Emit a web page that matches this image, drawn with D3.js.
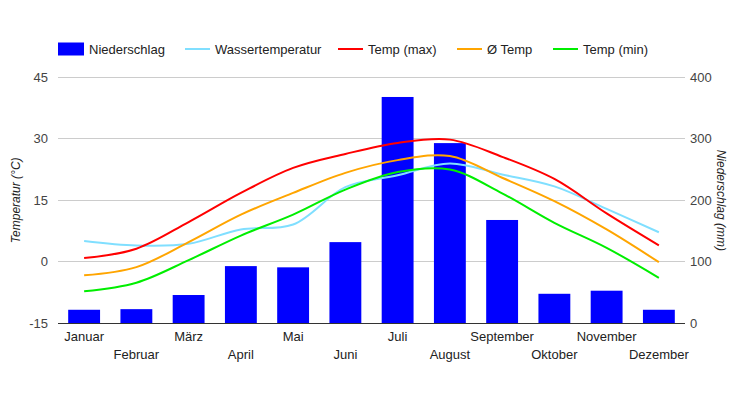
<!DOCTYPE html>
<html><head><meta charset="utf-8">
<script src="https://cdn.jsdelivr.net/npm/d3@7"></script>
<style>body{margin:0;background:#fff;}svg{display:block;font-family:"Liberation Sans",Arial,sans-serif;}</style>
</head><body>
<svg id="c" width="731" height="400"></svg>
<script>
const months = ["Januar","Februar","März","April","Mai","Juni","Juli","August","September","Oktober","November","Dezember"];
const niederschlag = [22,23,46,93,91,132,368,293,168,48,53,22];
const wasser = [5.1,4.0,4.4,7.9,9.1,18.2,21.1,24.0,21.3,18.4,12.9,7.2];
const tmax = [0.9,3.2,9.7,16.8,22.9,26.3,29.0,29.8,25.6,20.2,11.8,4.0];
const tavg = [-3.3,-1.3,4.8,11.5,16.8,21.7,24.8,25.8,20.5,14.8,7.9,-0.1];
const tmin = [-7.2,-5.1,0.4,6.4,11.5,17.6,21.9,22.5,16.7,9.5,3.4,-3.9];
const leftTicks = [-15,0,15,30,45];
const rightTicks = [0,100,200,300,400];

const svg = d3.select("#c");
const L = 58, R = 685, T = 77.3, B = 323.3;
const x = d3.scaleBand().domain(months).range([L,R]).paddingInner(0.39).paddingOuter(0.195);
const xc = d3.scaleBand().domain(months).range([L,R]);
const yL = d3.scaleLinear().domain([-15,45]).range([B,T]);
const yR = d3.scaleLinear().domain([0,400]).range([B,T]);

// grid
svg.append("g").selectAll("line").data(leftTicks.slice(1)).join("line")
  .attr("x1",L).attr("x2",R).attr("y1",d=>yL(d)).attr("y2",d=>yL(d))
  .attr("stroke","#cccccc").attr("stroke-width",1).attr("shape-rendering","crispEdges");

// bars
svg.append("g").selectAll("rect").data(niederschlag).join("rect")
  .attr("x",(d,i)=>x(months[i])).attr("width",x.bandwidth())
  .attr("y",d=>yR(d)).attr("height",d=>yR(0)-yR(d)).attr("fill","#0000ff");

// baseline
svg.append("line").attr("x1",L).attr("x2",R).attr("y1",B).attr("y2",B)
  .attr("stroke","#333").attr("stroke-width",1).attr("shape-rendering","crispEdges");

// lines
const series = [
  {name:"Wassertemperatur", data:wasser, color:"#80dfff"},
  {name:"Temp (max)", data:tmax, color:"#ff0000"},
  {name:"Ø Temp", data:tavg, color:"#ffa500"},
  {name:"Temp (min)", data:tmin, color:"#00ee00"}
];
const line = d3.line().x((d,i)=>xc(months[i])+xc.bandwidth()/2).y(d=>yL(d)).curve(d3.curveCatmullRom.alpha(0.5));
svg.append("g").selectAll("path").data(series).join("path")
  .attr("d",s=>line(s.data)).attr("fill","none").attr("stroke",s=>s.color).attr("stroke-width",2);

// left axis labels
svg.append("g").selectAll("text").data(leftTicks).join("text")
  .attr("x",48).attr("y",d=>yL(d)+4.5).attr("text-anchor","end")
  .attr("font-size",13).attr("fill","#444").text(d=>d);
// right axis labels
svg.append("g").selectAll("text").data(rightTicks).join("text")
  .attr("x",690).attr("y",d=>yR(d)+4.5).attr("text-anchor","start")
  .attr("font-size",13).attr("fill","#444").text(d=>d);

// x labels
svg.append("g").selectAll("text").data(months).join("text")
  .attr("x",d=>xc(d)+xc.bandwidth()/2).attr("y",(d,i)=>i%2===0?341:359)
  .attr("text-anchor","middle").attr("font-size",13).attr("fill","#222").text(d=>d);

// axis titles
svg.append("text").attr("transform",`translate(20,${(T+B)/2}) rotate(-90)`)
  .attr("text-anchor","middle").attr("font-size",12).attr("font-style","italic").attr("fill","#222")
  .text("Temperatur (°C)");
svg.append("text").attr("transform",`translate(717,${(T+B)/2}) rotate(90)`)
  .attr("text-anchor","middle").attr("font-size",12).attr("font-style","italic").attr("fill","#222")
  .text("Niederschlag (mm)");

// legend
const legend = [
  {name:"Niederschlag", color:"#0000ff", type:"rect", x:58},
  {name:"Wassertemperatur", color:"#80dfff", type:"line", x:185},
  {name:"Temp (max)", color:"#ff0000", type:"line", x:338},
  {name:"Ø Temp", color:"#ffa500", type:"line", x:457},
  {name:"Temp (min)", color:"#00ee00", type:"line", x:553}
];
const lg = svg.append("g").selectAll("g").data(legend).join("g").attr("transform",d=>`translate(${d.x},49)`);
lg.filter(d=>d.type==="rect").append("rect").attr("x",0).attr("y",-6.5).attr("width",26).attr("height",13).attr("fill",d=>d.color);
lg.filter(d=>d.type==="line").append("line").attr("x1",0).attr("x2",25).attr("y1",0).attr("y2",0).attr("stroke",d=>d.color).attr("stroke-width",2);
lg.append("text").attr("x",d=>d.type==="rect"?31:30).attr("y",4.5).attr("font-size",13).attr("fill","#222").text(d=>d.name);
</script>
</body></html>
